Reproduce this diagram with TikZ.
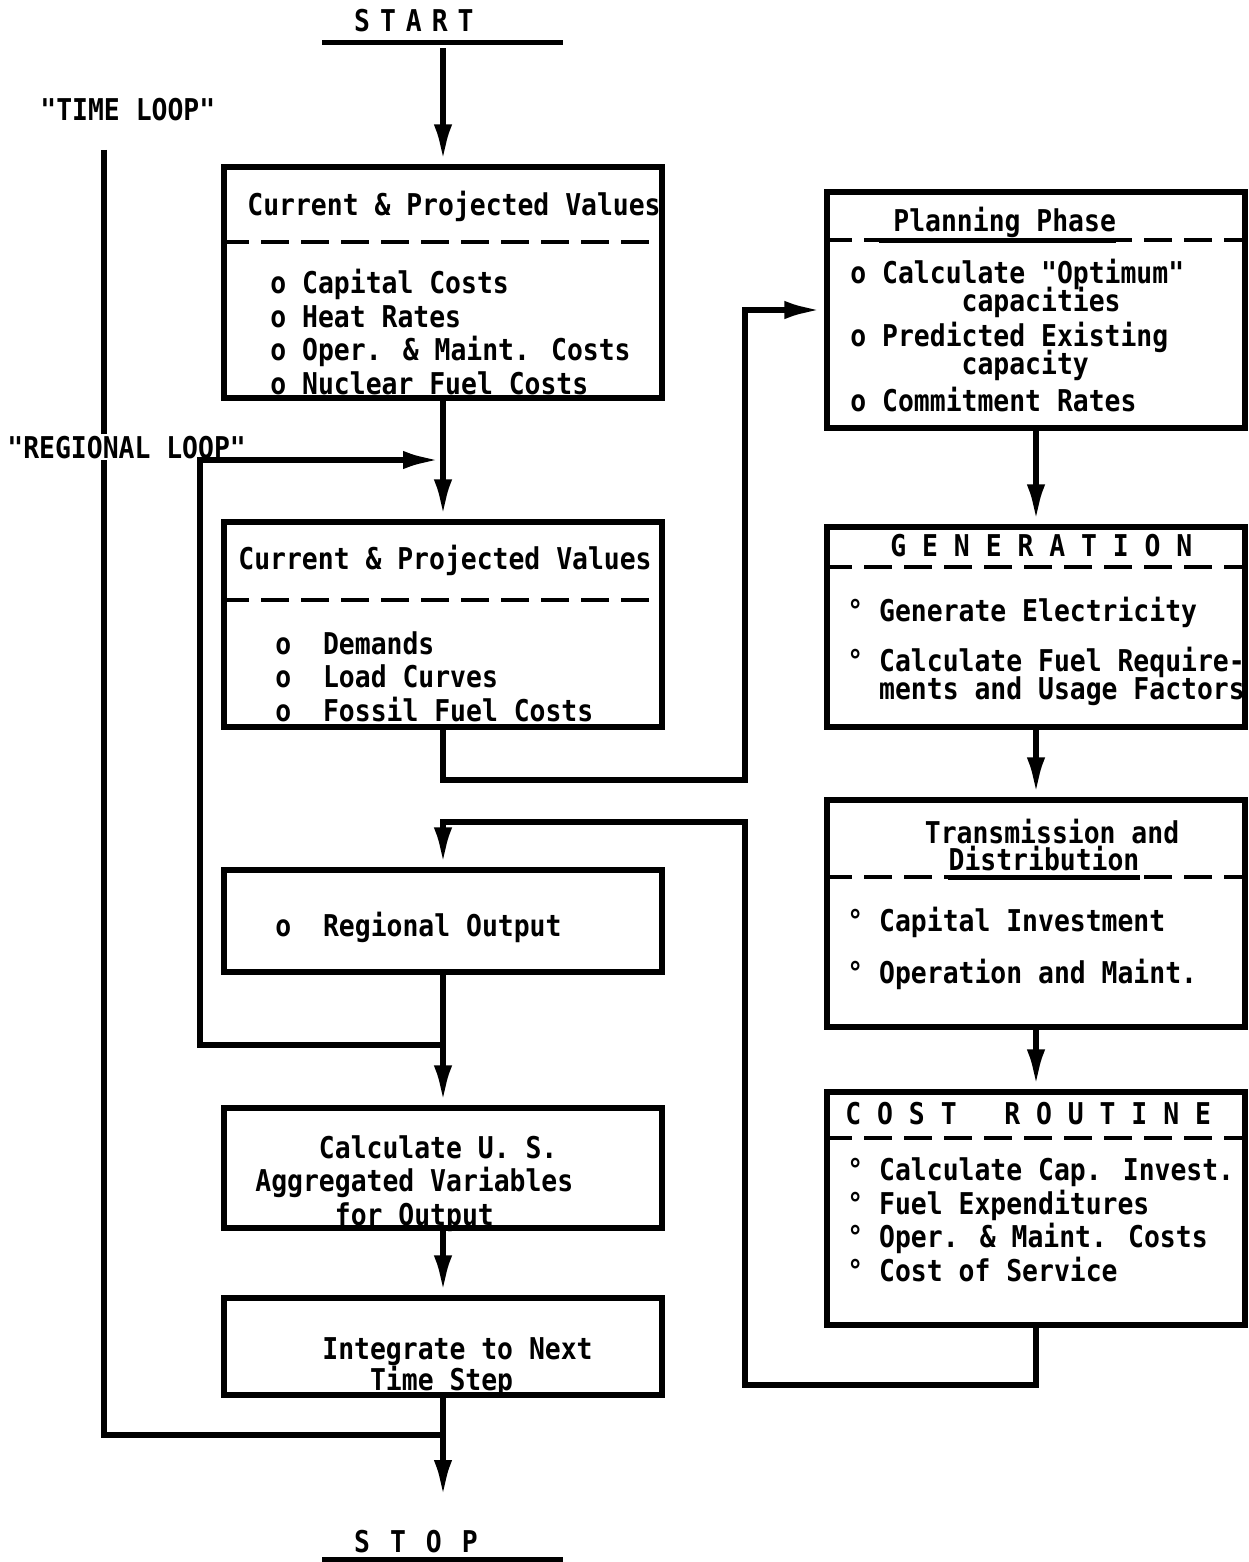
\documentclass[tikz,border=0pt]{standalone}
\usepackage{fontspec}
\usetikzlibrary{arrows.meta,fit}
\newfontfamily\prt[FakeStretch=0.88]{DejaVu Sans Mono}
\newcommand\tightprt{\prt\bfseries\fontsize{15pt}{14pt}\selectfont\setlength{\lineskiplimit}{-20pt}}

\begin{document}
\begin{tikzpicture}
  [x=0.5pt,y=-0.5pt,
   block/.style={draw,line width=2.6pt,inner sep=0pt},
   divider/.style={line width=2.4pt,dash pattern=on 14pt off 6pt},
   wire/.style={line width=3.4pt},
   conn/.style={wire,-{Latex[length=20pt,width=9pt]}},
   ptext/.style={font=\prt\bfseries\fontsize{15pt}{16.75pt}\selectfont,
                 inner sep=0pt,align=left,anchor=base west},
   tight/.style={ptext,font=\tightprt}]
  \useasboundingbox[fill=white] (0,0) rectangle (1248,1562);

  % lists are placed by the baseline of their last line
  \node[ptext,text width=120pt,inner ysep=5pt,text depth=0pt] (start) at (322,32) {\phantom{XX}S T A R T};
  \draw[line width=2.5pt] (start.south west) -- (start.south east);

  \node[block,fit={(224,167) (662,398)}] (cur) {};
  \node[ptext] (curhd) at (247,216) {Current \& Projected Values};
  \draw[divider] (cur.west |- 0,242) -- (cur.east |- 0,242);
  \node[ptext] (curls) at (270,394) {o Capital Costs\\o Heat Rates\\o Oper. \& Maint. Costs\\o Nuclear Fuel Costs};

  \node[block,fit={(224,522) (662,727)}] (dem) {};
  \node[ptext] (demhd) at (238,569) {Current \& Projected Values};
  \draw[divider] (dem.west |- 0,600) -- (dem.east |- 0,600);
  \node[ptext] (demls) at (275,721) {o~~Demands\\o~~Load Curves\\o~~Fossil Fuel Costs};

  \node[block,fit={(224,870) (662,972)}] (reg) {};
  \node[ptext] (regls) at (275,936) {o~~Regional Output};

  \node[block,fit={(224,1108) (662,1228)}] (agg) {};
  \node[ptext] (aggls) at (255,1225) {\phantom{XXXX}Calculate U. S.\\Aggregated Variables\\\phantom{XXXXX}for Output};

  \node[block,fit={(224,1298) (662,1395)}] (integ) {};
  \node[ptext] (integls) at (322,1390) {Integrate to Next\\[-1.25pt]\phantom{XXX}Time Step};

  \node[ptext,text width=120pt,inner ysep=3.5pt,text depth=0pt] (stop) at (322,1552) {\phantom{XX}S~~T~~O~~P};
  \draw[line width=2.5pt] (stop.south west) -- (stop.south east);

  \node[block,fit={(827,192) (1245,428)}] (plan) {};
  \node[ptext,text depth=4pt] (planhd) at (893,232) {Planning Phase};
  \draw[divider] (plan.west |- 0,240) -- (plan.east |- 0,240);
  \draw[line width=2.4pt] ([xshift=-7pt]planhd.south west) -- (planhd.south east);
  \node[tight] (planls) at (850,411) {o Calculate "Optimum"\\\phantom{XXXXXXX}capacities\\[3.5pt]o Predicted Existing\\\phantom{XXXXXXX}capacity\\[4.5pt]o Commitment Rates};

  \node[block,fit={(827,527) (1245,727)}] (gen) {};
  \node[ptext] (genhd) at (890,556) {G E N E R A T I O N};
  \draw[divider] (gen.west |- 0,567) -- (gen.east |- 0,567);
  \node[tight] (genls) at (847,699) {° Generate Electricity\\[11pt]° Calculate Fuel Require-\\\phantom{XX}ments and Usage Factors};

  \node[block,fit={(827,800) (1245,1027)}] (trd) {};
  \node[ptext,anchor=base] (trdhd) at (1052,843) {Transmission and};
  \node[ptext,anchor=base,text depth=3.5pt] (trdsub) at (1044,870) {Distribution};
  \draw[divider] (trd.west |- 0,877) -- (trd.east |- 0,877);
  \draw[line width=2.4pt] (trdsub.south west) -- (trdsub.south east);
  \node[ptext] (trdls) at (847,983) {° Capital Investment\\[9.25pt]° Operation and Maint.};

  \node[block,fit={(827,1092) (1245,1325)}] (cost) {};
  \node[ptext] (costhd) at (845,1124) {C O S T~~~R O U T I N E};
  \draw[divider] (cost.west |- 0,1138) -- (cost.east |- 0,1138);
  \node[ptext] (costls) at (847,1281) {° Calculate Cap. Invest.\\° Fuel Expenditures\\° Oper. \& Maint. Costs\\° Cost of Service};

  \coordinate (rgin) at (443,460);
  \coordinate (rgout) at (443,1045);
  \coordinate (tltop) at (104,150);
  \coordinate (tlin) at (443,1435);
  \coordinate (stopin) at (443,1500);
  \coordinate (bendA) at (745,780);
  \coordinate (bendB) at (745,1385);
  \coordinate (bendC) at (745,822);

  \node[ptext] (tlhd) at (40,121) {"TIME LOOP"};
  \draw[wire] (tltop) |- (tlin);
  \node[ptext,fill=white,inner sep=1pt] (rlhd) at (5,458) {"REGIONAL LOOP"};
  \draw[conn] (rgout) -- ++(-243,0) |- (rgin);

  \draw[conn,shorten <=3pt] (start.south -| cur.north) -- (cur.north);
  \draw[conn] (cur.south) -- (dem.north);
  \draw[conn] (dem.south) |- (bendA) |- (plan.west);
  \draw[conn] (plan.south) -- (gen.north);
  \draw[conn] (gen.south) -- (trd.north);
  \draw[conn] (trd.south) -- (cost.north);
  \draw[conn] (cost.south) |- (bendB) -- (bendC) -| (reg.north);
  \draw[conn] (reg.south) -- (agg.north);
  \draw[conn] (agg.south) -- (integ.north);
  \draw[conn] (integ.south) -- (stopin);
\end{tikzpicture}
\end{document}
